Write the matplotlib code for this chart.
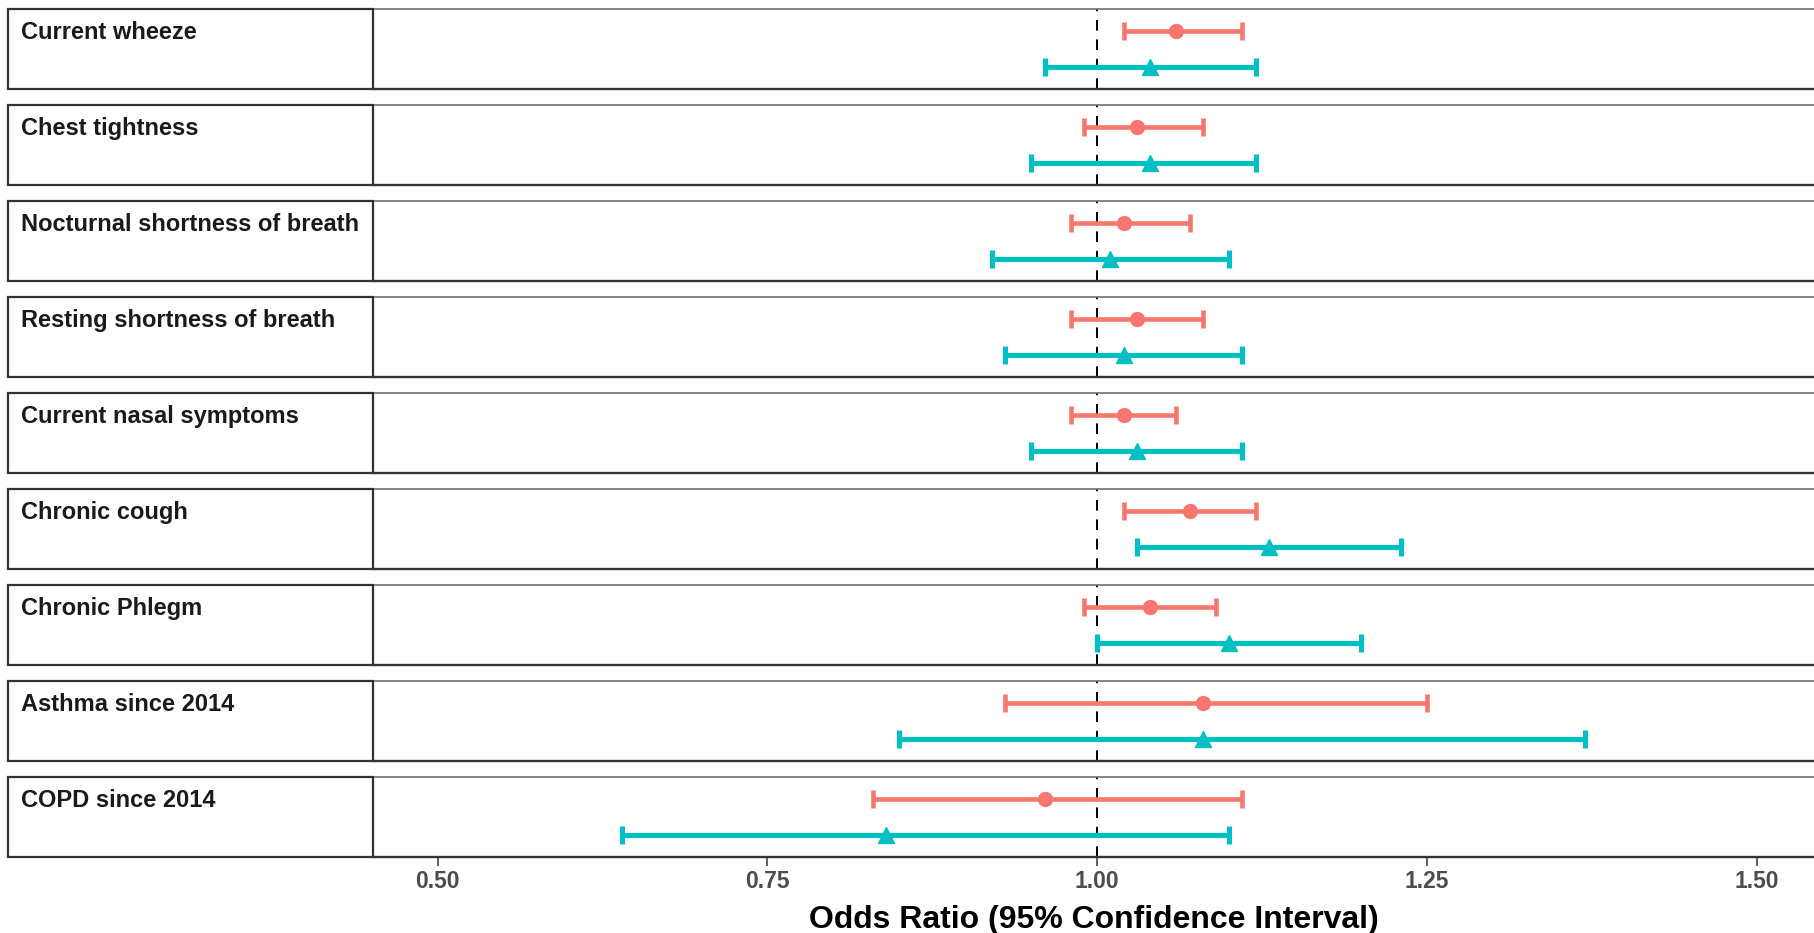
import matplotlib
matplotlib.use("Agg")
import matplotlib.pyplot as plt
from matplotlib.patches import Rectangle

plt.rcParams["font.family"] = ["Liberation Sans", "DejaVu Sans"]

outcomes = [
    "Current wheeze",
    "Chest tightness",
    "Nocturnal shortness of breath",
    "Resting shortness of breath",
    "Current nasal symptoms",
    "Chronic cough",
    "Chronic Phlegm",
    "Asthma since 2014",
    "COPD since 2014",
]
# first group (red circles)
g1_est = [1.06, 1.03, 1.02, 1.03, 1.02, 1.07, 1.04, 1.08, 0.96]
g1_lo = [1.02, 0.99, 0.98, 0.98, 0.98, 1.02, 0.99, 0.93, 0.83]
g1_hi = [1.11, 1.08, 1.07, 1.08, 1.06, 1.12, 1.09, 1.25, 1.11]
# second group (teal triangles)
g2_est = [1.04, 1.04, 1.01, 1.02, 1.03, 1.13, 1.10, 1.08, 0.84]
g2_lo = [0.96, 0.95, 0.92, 0.93, 0.95, 1.03, 1.00, 0.85, 0.64]
g2_hi = [1.12, 1.12, 1.10, 1.11, 1.11, 1.23, 1.20, 1.37, 1.10]
xticks = [0.50, 0.75, 1.00, 1.25, 1.50]

W, H = 1815, 933
fig = plt.figure(figsize=(W / 100, H / 100), dpi=100, facecolor="white")

left_px, strip_px = 373, 8
top0, panel_h, step = 9, 80, 96
red, teal = "#F8766D", "#00BFC4"

for i, name in enumerate(outcomes):
    top = top0 + step * i
    bottom = top + panel_h
    ax = fig.add_axes([left_px / W, 1 - bottom / H, (W - left_px) / W, panel_h / H])
    ax.set_xlim(0.451, 1.544)
    ax.set_ylim(0.4, 2.6)
    ax.axvline(1.0, color="black", lw=1.4, ls=(0, (5.5, 4.5)), zorder=1)

    ax.errorbar(g1_est[i], 2, xerr=[[g1_est[i] - g1_lo[i]], [g1_hi[i] - g1_est[i]]],
                fmt="o", color=red, ms=10, elinewidth=3.3, capsize=6.4, capthick=3.3, zorder=3)
    ax.errorbar(g2_est[i], 1, xerr=[[g2_est[i] - g2_lo[i]], [g2_hi[i] - g2_est[i]]],
                fmt="^", color=teal, ms=12, elinewidth=3.7, capsize=6.4, capthick=3.7, zorder=3)

    ax.set_yticks([])
    for s in ("left", "right"):
        ax.spines[s].set_visible(False)
    ax.spines["top"].set_color("#666666")
    ax.spines["top"].set_linewidth(1.1)
    ax.spines["bottom"].set_color("#333333")
    ax.spines["bottom"].set_linewidth(1.7)

    if i == len(outcomes) - 1:
        ax.set_xticks(xticks)
        ax.set_xticklabels([f"{t:.2f}" for t in xticks])
        ax.tick_params(axis="x", length=6.5, width=1.1, color="#333333", pad=2.5,
                       labelsize=16.5, labelcolor="#4D4D4D")
        for lab in ax.get_xticklabels():
            lab.set_fontweight("bold")
    else:
        ax.set_xticks([])

    # strip box on the left
    fig.add_artist(Rectangle((strip_px / W, 1 - bottom / H), (left_px - strip_px) / W, panel_h / H,
                             transform=fig.transFigure, fill=False, ec="#333333", lw=1.6, zorder=5))
    fig.text(21 / W, 1 - (top + 30) / H, name, fontsize=17, fontweight="bold",
             color="#1A1A1A", ha="left", va="baseline")

fig.text((left_px + W) / 2 / W, 1 - 928 / H, "Odds Ratio (95% Confidence Interval)",
         fontsize=23, fontweight="bold", color="black", ha="center", va="baseline")

fig.savefig("out.png", dpi=100, facecolor="white")
